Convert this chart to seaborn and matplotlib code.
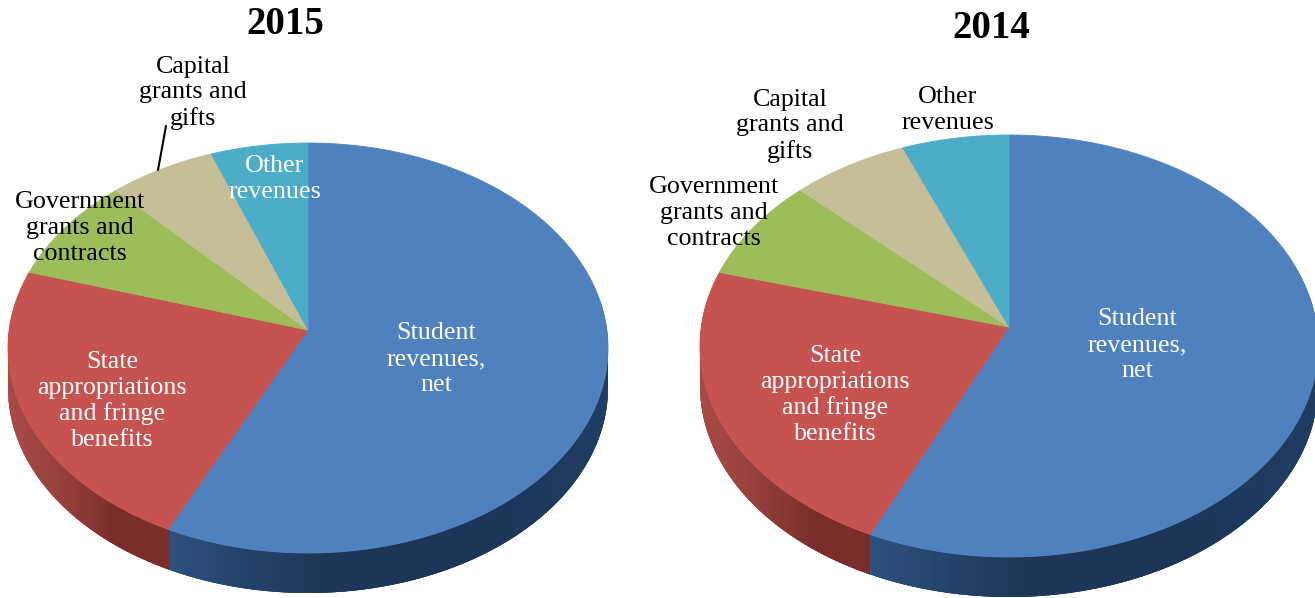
import numpy as np
import matplotlib
matplotlib.use("Agg")
import matplotlib.pyplot as plt
import seaborn as sns
from matplotlib.collections import PolyCollection
from matplotlib.colors import LinearSegmentedColormap
from matplotlib.path import Path
from matplotlib.transforms import Transform

categories = ["Student revenues, net", "State appropriations and fringe benefits",
              "Government grants and contracts", "Capital grants and gifts", "Other revenues"]
values_2015 = [57.1, 22.6, 8.3, 6.3, 5.7]
values_2014 = [56.8, 22.5, 7.9, 6.7, 6.1]
slice_colors = ["#5081BF", "#C65350", "#9DBD5A", "#C6BE96", "#4CADC8"]
side_colors = [["#2C507C", "#1E3759", "#1C3558", "#1F3C62"],
               ["#A84B47", "#96403C", "#7A2E2C", "#7A2E2C"],
               ["#6F8840"] * 2, ["#8E8765"] * 2, ["#34798D"] * 2]

sns.set_theme(style="white")
plt.rcParams["font.family"] = ["Liberation Serif", "DejaVu Serif"]


class Tilted(Transform):
    """Perspective view of the unit-circle pie, in pixel coordinates."""
    input_dims = output_dims = 2
    is_separable = False
    has_inverse = False

    def __init__(self, cx, cy, rx, up, down):
        super().__init__()
        self.cx, self.cy = cx, cy
        self.c = (down - up) / (down + up)
        self.a = up * (1 + self.c)
        self.s = rx * np.sqrt(1 - self.c ** 2)

    def transform_non_affine(self, xy):
        xy = np.asarray(xy, float)
        w = 1 + self.c * xy[:, 1]
        return np.column_stack([self.cx + self.s * xy[:, 0] / w,
                                self.cy - self.a * xy[:, 1] / w])

    def transform_path_non_affine(self, path):
        pts = []
        for seg, code in path.iter_bezier():
            if code == Path.MOVETO:
                pts.append(seg.control_points[0])
            else:
                pts.extend(seg(np.linspace(0, 1, 25)[1:]))
        return Path(self.transform_non_affine(np.array(pts)), closed=False)


def tilted_pie(ax, values, cx, cy, rx, up, down, depth):
    top = Tilted(cx, cy, rx, up, down)
    wedges, _ = ax.pie(values, colors=slice_colors, startangle=90, counterclock=False,
                       wedgeprops=dict(linewidth=0.6, zorder=3))
    for wedge, stops in zip(wedges, side_colors):
        wedge.set_edgecolor(wedge.get_facecolor())
        wedge.set_transform(top + ax.transData)
        wedge.set_clip_on(False)
        th = np.radians(np.arange(wedge.theta1, wedge.theta2 + 0.5, 0.5))
        edge = top.transform_non_affine(np.column_stack([np.cos(th), np.sin(th)]))
        front = np.sin(th) < 0.15
        if front.sum() < 2:
            continue
        edge = edge[front]
        low = edge + [0, depth]
        n = len(edge)
        quads = [[edge[i], edge[min(i + 3, n - 1)], low[min(i + 3, n - 1)], low[i]]
                 for i in range(n - 1)]
        cmap = LinearSegmentedColormap.from_list("side", stops)
        mid = 0.5 * (edge[:-1, 0] + edge[1:, 0])
        col = cmap((mid - mid.min()) / max(np.ptp(mid), 1))
        ax.add_collection(PolyCollection(quads, facecolors=col, edgecolors="none",
                                         linewidths=0, zorder=1))


def label(ax, x, y, text, color="black", **kw):
    ax.text(x, y + 2, text, color=color, ha="center", va="center", multialignment="center",
            fontsize=18.7, linespacing=1.22, zorder=5, **kw)


fig = plt.figure(figsize=(13.15, 5.98), dpi=100, facecolor="white")
ax = fig.add_axes([0, 0, 1, 1])

tilted_pie(ax, values_2015, 308, 330, 300, 187, 223, 40)
tilted_pie(ax, values_2014, 1009, 327, 309, 192, 230, 40)

ax.set_aspect("auto")
ax.set_xlim(0, 1315)
ax.set_ylim(598, 0)
ax.axis("off")

ax.text(285, 25, "2015", fontsize=28, fontweight="bold", ha="center", va="center", color="black")
ax.text(991, 29, "2014", fontsize=28, fontweight="bold", ha="center", va="center", color="black")

label(ax, 193, 91, "Capital\ngrants and\ngifts")
label(ax, 80, 226, "Government\ngrants and\ncontracts")
label(ax, 275, 177, "Other\nrevenues", color="white")
label(ax, 436, 357, "Student\nrevenues,\nnet", color="white")
label(ax, 112, 399, "State\nappropriations\nand fringe\nbenefits", color="white")
ax.plot([166, 158], [126, 170], color="black", lw=1.5, zorder=5)

label(ax, 790, 124, "Capital\ngrants and\ngifts")
label(ax, 948, 108, "Other\nrevenues")
label(ax, 714, 211, "Government\ngrants and\ncontracts")
label(ax, 1137, 343, "Student\nrevenues,\nnet", color="white")
label(ax, 835, 393, "State\nappropriations\nand fringe\nbenefits", color="white")

fig.savefig("out.png", dpi=100, facecolor="white")
